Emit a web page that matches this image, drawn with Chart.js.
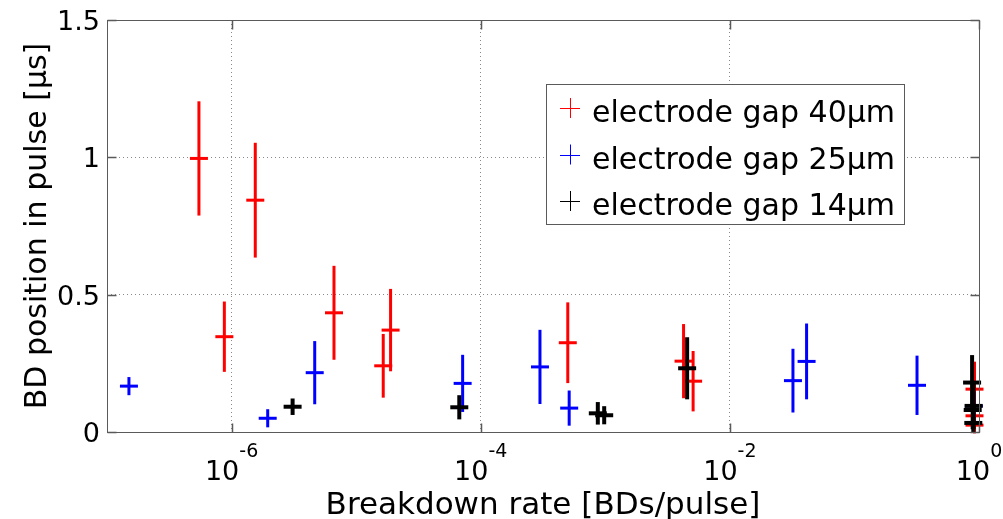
<!DOCTYPE html>
<html><head><meta charset="utf-8">
<script src="https://cdn.jsdelivr.net/npm/chart.js@4"></script>
<style>html,body{margin:0;padding:0;background:#fff;overflow:hidden}</style>
</head><body>
<canvas id="c" width="1003" height="519"></canvas>
<script>
// ---- data ----
const seriesLabels = ['electrode gap 40\u03bcm', 'electrode gap 25\u03bcm', 'electrode gap 14\u03bcm'];
const seriesColors = ['#ff0000', '#0000ff', '#000000'];

const red40X   = [5.47e-7, 1.55e-6, 8.75e-7, 6.64e-6, 1.65e-5, 1.89e-5, 5.0e-4, 4.25e-3, 5.07e-3, 0.92, 0.92, 0.92];
const red40Y   = [0.996, 0.844, 0.347, 0.434, 0.241, 0.371, 0.325, 0.258, 0.185, 0.156, 0.059, 0.025];
const red40Err = [0.208, 0.209, 0.128, 0.171, 0.116, 0.150, 0.147, 0.135, 0.110, 0.100, 0.059, 0.030];

const blue25X   = [1.50e-7, 1.95e-6, 4.65e-6, 7.16e-5, 2.99e-4, 5.13e-4, 3.21e-2, 4.13e-2, 0.318, 0.91];
const blue25Y   = [0.167, 0.050, 0.216, 0.177, 0.237, 0.087, 0.187, 0.257, 0.170, 0.095];
const blue25Err = [0.033, 0.033, 0.115, 0.104, 0.135, 0.064, 0.116, 0.138, 0.108, 0.050];

const black14X   = [3.09e-6, 6.73e-5, 8.71e-4, 9.80e-4, 4.54e-3, 0.88, 0.905, 0.89, 0.90];
const black14Y   = [0.092, 0.090, 0.068, 0.061, 0.232, 0.180, 0.095, 0.080, 0.033];
const black14Err = [0.030, 0.044, 0.041, 0.033, 0.113, 0.100, 0.085, 0.070, 0.033];

const xTickValues = [1e-6, 1e-4, 1e-2, 1];
const xTickExponents = ['-6', '-4', '-2', '0'];
const yTickValues = [0, 0.5, 1, 1.5];
const yTickLabels = ['0', '0.5', '1', '1.5'];
const xAxisTitle = 'Breakdown rate [BDs/pulse]';
const yAxisTitle = 'BD position in pulse [\u03bcs]';

// ---- build ----
function pts(xs, ys) { return xs.map((x, i) => ({x: x, y: ys[i]})); }
const FONT = '"DejaVu Sans", sans-serif';

function makeDs(idx, xs, ys, errs, bw, ord) {
  return {
    label: seriesLabels[idx],
    data: pts(xs, ys),
    errors: errs,
    barWidth: bw,
    borderColor: seriesColors[idx],
    backgroundColor: seriesColors[idx],
    pointStyle: 'line',
    pointRadius: 9,
    pointHoverRadius: 9,
    borderWidth: bw,
    showLine: false,
    clip: false,
    order: ord
  };
}

const errorBars = {
  id: 'errorBars',
  afterDatasetDraw(chart, args) {
    const ds = chart.data.datasets[args.index];
    const xs = chart.scales.x, ys = chart.scales.y, ctx = chart.ctx;
    ctx.save();
    ctx.strokeStyle = ds.borderColor;
    ctx.lineWidth = ds.barWidth;
    ds.data.forEach((p, i) => {
      const px = xs.getPixelForValue(p.x);
      ctx.beginPath();
      ctx.moveTo(px, ys.getPixelForValue(p.y - ds.errors[i]));
      ctx.lineTo(px, ys.getPixelForValue(p.y + ds.errors[i]));
      ctx.stroke();
    });
    ctx.restore();
  }
};

const decor = {
  id: 'decor',
  afterDraw(chart) {
    const ctx = chart.ctx, a = chart.chartArea, xs = chart.scales.x, ys = chart.scales.y;
    ctx.save();
    // box
    ctx.strokeStyle = '#5a5a5a';
    ctx.lineWidth = 1;
    const L = Math.round(a.left) + 0.5, R = Math.round(a.right) + 0.5, T = Math.round(a.top) + 0.5, B = Math.round(a.bottom) + 0.5;
    ctx.strokeRect(L, T, R - L, B - T);
    // inward tick marks
    ctx.lineWidth = 1.5;
    ctx.beginPath();
    xTickValues.forEach(v => {
      const px = Math.round(xs.getPixelForValue(v)) + 0.5;
      ctx.moveTo(px, B); ctx.lineTo(px, B - 9);
      ctx.moveTo(px, T); ctx.lineTo(px, T + 9);
    });
    yTickValues.forEach(v => {
      const py = Math.round(ys.getPixelForValue(v)) + 0.5;
      ctx.moveTo(L, py); ctx.lineTo(L + 9, py);
      ctx.moveTo(R, py); ctx.lineTo(R - 9, py);
    });
    ctx.stroke();
    // x tick labels
    ctx.fillStyle = '#000';
    ctx.textBaseline = 'alphabetic';
    ctx.textAlign = 'left';
    xTickValues.forEach((v, i) => {
      const px = xs.getPixelForValue(v);
      ctx.font = '27px ' + FONT;
      const wb = ctx.measureText('10').width;
      ctx.font = '19px ' + FONT;
      const we = ctx.measureText(xTickExponents[i]).width;
      const x0 = px - (wb + we) / 2;
      ctx.font = '27px ' + FONT;
      ctx.fillText('10', x0, a.bottom + 48);
      ctx.font = '19px ' + FONT;
      ctx.fillText(xTickExponents[i], x0 + wb, a.bottom + 25);
    });
    // y tick labels
    ctx.font = '27px ' + FONT;
    ctx.textAlign = 'right';
    yTickValues.forEach((v, i) => {
      const py = ys.getPixelForValue(v);
      ctx.fillText(yTickLabels[i], a.left - 7, py + 10);
    });
    // axis titles
    ctx.font = '31px ' + FONT;
    ctx.textAlign = 'center';
    ctx.fillText(xAxisTitle, (a.left + a.right) / 2, 514);
    ctx.save();
    ctx.translate(46, (a.top + a.bottom) / 2);
    ctx.rotate(-Math.PI / 2);
    ctx.font = '30px ' + FONT;
    ctx.fillText(yAxisTitle, 0, 0);
    ctx.restore();
    // legend
    const lx = 546, ly = 84, lw = 358, lh = 140;
    ctx.fillStyle = '#fff';
    ctx.fillRect(lx, ly, lw, lh);
    ctx.strokeStyle = '#5a5a5a';
    ctx.lineWidth = 1;
    ctx.strokeRect(lx + 0.5, ly + 0.5, lw, lh);
    ctx.font = '30px ' + FONT;
    ctx.textAlign = 'left';
    seriesLabels.forEach((lab, i) => {
      const my = 108 + i * 46.5;
      ctx.strokeStyle = seriesColors[i];
      ctx.lineWidth = 1;
      ctx.beginPath();
      ctx.moveTo(560, Math.round(my) + 0.5); ctx.lineTo(580, Math.round(my) + 0.5);
      ctx.moveTo(570.5, my - 10); ctx.lineTo(570.5, my + 10);
      ctx.stroke();
      ctx.fillStyle = '#000';
      ctx.fillText(lab, 592, my + 14);
    });
    ctx.restore();
  }
};

new Chart(document.getElementById('c'), {
  type: 'scatter',
  data: {
    datasets: [
      makeDs(0, red40X, red40Y, red40Err, 3, 3),
      makeDs(1, blue25X, blue25Y, blue25Err, 3, 2),
      makeDs(2, black14X, black14Y, black14Err, 4, 1)
    ]
  },
  options: {
    responsive: false,
    animation: false,
    devicePixelRatio: 1,
    layout: {padding: {left: 107, right: 24, top: 20, bottom: 87}},
    plugins: {legend: {display: false}, tooltip: {enabled: false}, title: {display: false}},
    scales: {
      x: {
        type: 'logarithmic', min: 1e-7, max: 1,
        afterBuildTicks: s => { s.ticks = xTickValues.map(v => ({value: v})); },
        ticks: {display: false},
        grid: {drawTicks: false, lineWidth: 1,
               color: c => (c.tick && c.tick.value === 1) ? 'rgba(0,0,0,0)' : '#8a8a8a'},
        border: {display: false, dash: [1, 3]}
      },
      y: {
        type: 'linear', min: 0, max: 1.5,
        afterBuildTicks: s => { s.ticks = yTickValues.map(v => ({value: v})); },
        ticks: {display: false},
        grid: {drawTicks: false, lineWidth: 1,
               color: c => (c.tick && (c.tick.value === 0 || c.tick.value === 1.5)) ? 'rgba(0,0,0,0)' : '#8a8a8a'},
        border: {display: false, dash: [1, 3]}
      }
    }
  },
  plugins: [errorBars, decor]
});
</script>
</body></html>
